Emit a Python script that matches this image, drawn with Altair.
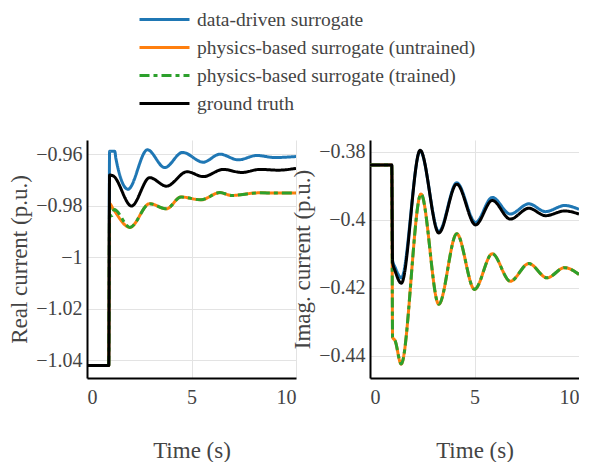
import altair as alt
import pandas as pd

# ---------------- data ----------------
series_names = [
    "data-driven surrogate",
    "physics-based surrogate (untrained)",
    "physics-based surrogate (trained)",
    "ground truth",
]
series_colors = ["#1f77b4", "#ff7f0e", "#2ca02c", "#000000"]
series_dashes = [[1, 0], [1, 0], [10, 4, 4, 4], [1, 0]]

# Left panel: real current (p.u.)
real_dd_t = [0, 1.04, 1.08, 1.33, 1.38, 1.96, 2.89, 3.72, 4.57, 5.56, 6.36, 7.24, 8.12, 8.99, 10]
real_dd_v = [-1.042, -1.042, -0.9589, -0.9589, -0.9616, -0.9736, -0.9583, -0.9652, -0.9593,
             -0.9631, -0.9600, -0.9622, -0.9605, -0.9613, -0.9609]

real_pu_t = [0, 1.04, 1.08, 1.25, 2.05, 3.0, 3.80, 4.5, 5.45, 6.36, 6.92, 8.19, 10]
real_pu_v = [-1.042, -1.042, -0.9792, -0.9812, -0.9884, -0.9792, -0.9812, -0.9766, -0.9777,
             -0.9749, -0.9760, -0.9750, -0.9751]

real_pt_t = [0, 1.04, 1.08, 1.12, 1.2, 1.3, 2.05, 3.0, 3.80, 4.5, 5.45, 6.36, 6.92, 8.19, 10]
real_pt_v = [-1.042, -1.042, -0.9800, -0.9840, -0.9838, -0.9815, -0.9884, -0.9792, -0.9812,
             -0.9766, -0.9777, -0.9749, -0.9760, -0.9750, -0.9751]

real_gt_t = [0, 1.04, 1.08, 1.25, 2.13, 3.0, 3.80, 4.79, 5.56, 6.52, 7.40, 8.28, 9.15, 10]
real_gt_v = [-1.042, -1.042, -0.9681, -0.9684, -0.9801, -0.9691, -0.9724, -0.9668, -0.9687,
             -0.9659, -0.9671, -0.9659, -0.9662, -0.9655]

# Right panel: imaginary current (p.u.)
imag_dd_t = [0, 1.04, 1.08, 1.2, 1.5, 2.40, 3.29, 4.15, 5.05, 5.85, 6.71, 7.60, 8.40, 9.31, 10]
imag_dd_v = [-0.3839, -0.3839, -0.4120, -0.4140, -0.4171, -0.3797, -0.4035, -0.3891, -0.4008,
             -0.3934, -0.3983, -0.3953, -0.3976, -0.3958, -0.3969]

imag_pu_t = [0, 1.04, 1.08, 1.2, 1.49, 2.44, 3.29, 4.15, 5.0, 5.85, 6.71, 7.60, 8.47, 9.31, 10]
imag_pu_v = [-0.3839, -0.3839, -0.4346, -0.4356, -0.4425, -0.3924, -0.4249, -0.4041, -0.4205,
             -0.4100, -0.4181, -0.4129, -0.4171, -0.4141, -0.4161]

imag_pt_t = imag_pu_t
imag_pt_v = imag_pu_v

imag_gt_t = [0, 1.04, 1.08, 1.2, 1.5, 2.40, 3.29, 4.15, 5.05, 5.85, 6.71, 7.60, 8.40, 9.31, 10]
imag_gt_v = [-0.3839, -0.3839, -0.4125, -0.4150, -0.4187, -0.3795, -0.4039, -0.3895, -0.4015,
             -0.3943, -0.3998, -0.3966, -0.3988, -0.3974, -0.3983]

x_ticks = [0, 5, 10]
real_ticks = [-1.04, -1.02, -1.0, -0.98, -0.96]
imag_ticks = [-0.44, -0.42, -0.40, -0.38]
real_domain = [-1.0468, -0.9545]
imag_domain = [-0.4466, -0.3765]

rows = []
def add(panel, name, ts, vs):
    for t, v in zip(ts, vs):
        rows.append({"panel": panel, "series": name, "t": t, "v": v})

add("real", series_names[0], real_dd_t, real_dd_v)
add("real", series_names[1], real_pu_t, real_pu_v)
add("real", series_names[2], real_pt_t, real_pt_v)
add("real", series_names[3], real_gt_t, real_gt_v)
add("imag", series_names[0], imag_dd_t, imag_dd_v)
add("imag", series_names[1], imag_pu_t, imag_pu_v)
add("imag", series_names[2], imag_pt_t, imag_pt_v)
add("imag", series_names[3], imag_gt_t, imag_gt_v)
df = pd.DataFrame(rows)

FONT = "Liberation Serif"
TXT = "#444444"

color_scale = alt.Scale(domain=series_names, range=series_colors)
dash_scale = alt.Scale(domain=series_names, range=series_dashes)

legend = alt.Legend(
    orient="none", legendX=66, legendY=-132,
    symbolType="M-2.5,0H2.5", symbolSize=400, symbolStrokeWidth=3,
    labelFont=FONT, labelFontSize=19.5, labelColor=TXT, labelOffset=21,
    labelLimit=500, rowPadding=7, padding=0,
)


def panel(name, ytitle, ydomain, yticks, with_legend):
    enc_color = alt.Color("series:N", scale=color_scale, title=None,
                          legend=legend if with_legend else None)
    enc_dash = alt.StrokeDash("series:N", scale=dash_scale, title=None,
                              legend=legend if with_legend else None)
    return (
        alt.Chart(df)
        .transform_filter(alt.datum.panel == name)
        .mark_line(strokeWidth=3, interpolate="monotone", clip=True)
        .encode(
            x=alt.X("t:Q", scale=alt.Scale(domain=[0, 10], nice=False),
                    axis=alt.Axis(values=x_ticks, title="Time (s)", labelPadding=9,
                                  titlePadding=32)),
            y=alt.Y("v:Q", scale=alt.Scale(domain=ydomain, nice=False, zero=False),
                    axis=alt.Axis(values=yticks, format="~g", title=ytitle,
                                  labelPadding=5, titlePadding=4)),
            color=enc_color,
            strokeDash=enc_dash,
        )
        .properties(width=209, height=238)
    )


left = panel("real", "Real current (p.u.)", real_domain, real_ticks, True)
right = panel("imag", "Imag. current (p.u.)", imag_domain, imag_ticks, False)

chart = (
    alt.hconcat(left, right, spacing=74, bounds="flush")
    .properties(padding={"left": 0, "top": 0, "right": 0, "bottom": 0})
    .configure(font=FONT)
    .configure_view(strokeWidth=0)
    .configure_legend(labelFont=FONT)
    .configure_axis(
        domain=True, domainColor="#000000", domainWidth=2,
        ticks=False, grid=True, gridColor="#e3e3e3", gridWidth=1,
        labelFont=FONT, labelFontSize=20, labelColor=TXT,
        titleFont=FONT, titleFontSize=23, titleColor=TXT, titleFontWeight="normal",
    )
)

chart.save("out.html", embed_options={"renderer": "svg", "actions": False})
